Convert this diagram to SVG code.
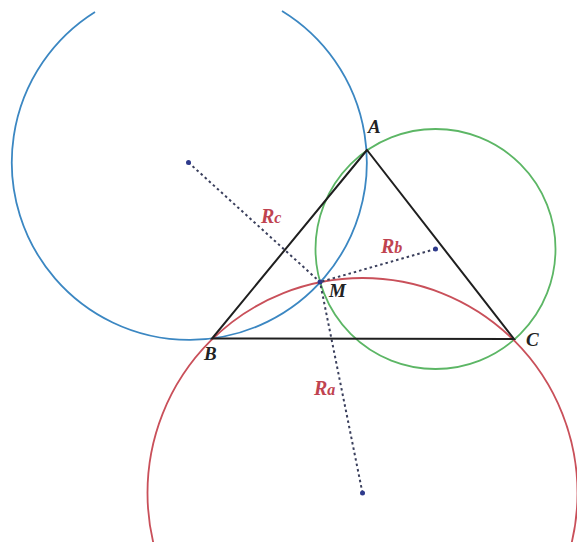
<svg xmlns="http://www.w3.org/2000/svg" width="577" height="542" viewBox="0 0 577 542">
<style>
.circ{fill:none;stroke-width:1.8}
.tri{fill:none;stroke:#1f1f1f;stroke-width:2;stroke-linejoin:miter}
.dash{fill:none;stroke:#3a3f5c;stroke-width:2;stroke-dasharray:2.5 3}
.ctr{fill:#2e3a8c}
.pt{font-family:"Liberation Serif",serif;font-style:italic;font-weight:bold;font-size:19px;fill:#222}
.rl{font-family:"Liberation Serif",serif;font-style:italic;font-weight:bold;font-size:20px;fill:#c04350}
</style>
<rect width="577" height="542" fill="#ffffff"/>
<g id="circles">
<path id="circle-blue" class="circ" stroke="#3b87c2" d="M282,11 A177.5,177.5 0 1 1 95,12"/>
<circle id="circle-green" class="circ" stroke="#5cb665" cx="435.5" cy="249" r="120"/>
<circle id="circle-red" class="circ" stroke="#c9505a" cx="362.5" cy="493" r="215"/>
</g>
<g id="connectors">
<line class="dash" x1="188.5" y1="162.5" x2="320" y2="282"/>
<line class="dash" x1="435.5" y1="249" x2="320" y2="282"/>
<line class="dash" x1="362.5" y1="493" x2="320" y2="282"/>
</g>
<g id="triangle">
<polygon class="tri" points="367,150 212,338.5 514,339"/>
</g>
<g id="centers">
<circle class="ctr" cx="188.5" cy="162.5" r="2.5"/>
<circle class="ctr" cx="435.5" cy="249" r="2.5"/>
<circle class="ctr" cx="362.5" cy="493" r="2.5"/>
<circle class="ctr" cx="320" cy="282" r="2.5"/>
</g>
<g id="node-A"><text class="pt" x="368" y="133">A</text></g>
<g id="node-B"><text class="pt" x="204" y="360">B</text></g>
<g id="node-C"><text class="pt" x="526" y="346">C</text></g>
<g id="node-M"><text class="pt" x="329" y="297">M</text></g>
<g id="label-Rc"><text class="rl" x="261" y="223">R<tspan font-size="16">c</tspan></text></g>
<g id="label-Rb"><text class="rl" x="381" y="253">R<tspan font-size="16">b</tspan></text></g>
<g id="label-Ra"><text class="rl" x="314" y="395">R<tspan font-size="16">a</tspan></text></g>
</svg>
